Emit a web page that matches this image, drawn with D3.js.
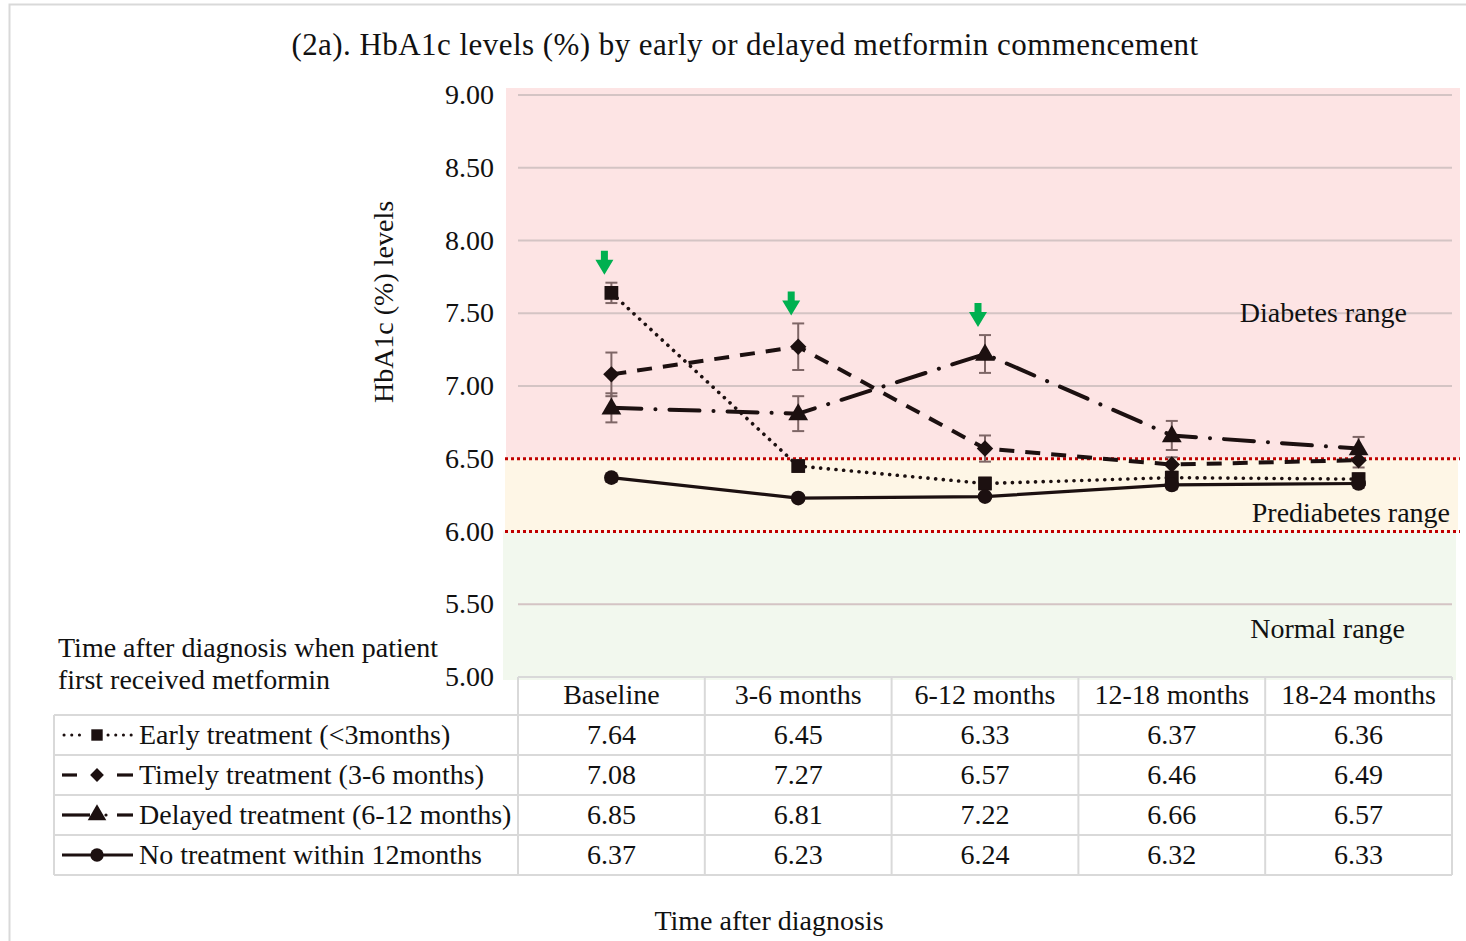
<!DOCTYPE html>
<html>
<head>
<meta charset="utf-8">
<script src="https://cdn.jsdelivr.net/npm/d3@7/dist/d3.min.js"></script>
<style>
  html, body { margin: 0; padding: 0; background: #fff; }
  svg text { font-family: "Liberation Serif", "Times New Roman", serif; fill: #111; }
</style>
</head>
<body>
<svg id="chart" width="1466" height="941"></svg>
<script>
// Time points (x categories)
const categories = ["Baseline", "3-6 months", "6-12 months", "12-18 months", "18-24 months"];

// Series labels as shown in the table
const seriesNames = [
  "Early treatment (<3months)",
  "Timely treatment (3-6 months)",
  "Delayed treatment (6-12 months)",
  "No treatment within 12months"
];

// Mean HbA1c (%) per time point
const earlyValues   = [7.64, 6.45, 6.33, 6.37, 6.36];
const timelyValues  = [7.08, 7.27, 6.57, 6.46, 6.49];
const delayedValues = [6.85, 6.81, 7.22, 6.66, 6.57];
const noneValues    = [6.37, 6.23, 6.24, 6.32, 6.33];

// Error bar half-widths (%)
const earlyErr   = [0.07, 0.04, 0.04, 0.04, 0.04];
const timelyErr  = [0.15, 0.16, 0.09, 0.05, 0.05];
const delayedErr = [0.10, 0.12, 0.13, 0.10, 0.08];
const noneErr    = [0.03, 0.02, 0.02, 0.03, 0.03];

// Time point at which each group started metformin (arrow markers)
const startIndex = [0, 1, 2, null];

// Y axis ticks
const yTicks = [5.0, 5.5, 6.0, 6.5, 7.0, 7.5, 8.0, 8.5, 9.0];

// Clinical thresholds
const ranges = [
  { name: "Diabetes range",    lo: 6.5, hi: 9.0 },
  { name: "Prediabetes range", lo: 6.0, hi: 6.5 },
  { name: "Normal range",      lo: 5.0, hi: 6.0 }
];

const seriesValues = [earlyValues, timelyValues, delayedValues, noneValues];
const seriesErr = [earlyErr, timelyErr, delayedErr, noneErr];

const svg = d3.select("#chart");
const FS = 28;

const x = d3.scaleBand().domain(categories).range([518, 1452]);
const xc = c => x(c) + x.bandwidth() / 2;
const y = d3.scaleLinear().domain([5, 9]).range([677, 95]);

// outer frame (top and left edges)
svg.append("path")
  .attr("d", "M9.5,941 V4.5 H1466")
  .attr("fill", "none").attr("stroke", "#d9d9d9").attr("stroke-width", 2);

// title
svg.append("text").attr("x", 745).attr("y", 55).attr("text-anchor", "middle")
  .style("font-size", "31px").style("letter-spacing", "0.45px")
  .text("(2a). HbA1c levels (%) by early or delayed metformin commencement");

// range bands
const bandStyle = [
  { fill: "#fde4e4", x0: 506, x1: 1460, top: -7, bottom: 0 },
  { fill: "#fef6e6", x0: 505, x1: 1458, top: 0, bottom: 0 },
  { fill: "#f2f8ee", x0: 503, x1: 1456, top: 0, bottom: 3 }
];
ranges.forEach((r, i) => {
  const s = bandStyle[i];
  svg.append("rect")
    .attr("x", s.x0).attr("width", s.x1 - s.x0)
    .attr("y", y(r.hi) + s.top)
    .attr("height", y(r.lo) - y(r.hi) - s.top + s.bottom)
    .attr("fill", s.fill);
});

// gridlines
svg.append("g").selectAll("line").data(yTicks.filter(t => t > 5 && t !== 6.5 && t !== 6.0)).join("line")
  .attr("x1", 518).attr("x2", 1452)
  .attr("y1", d => y(d)).attr("y2", d => y(d))
  .attr("stroke", "#d4c4c4").attr("stroke-width", 2);

// threshold lines
[6.5, 6.0].forEach(t => {
  svg.append("line").attr("x1", 505).attr("x2", 1460)
    .attr("y1", y(t)).attr("y2", y(t))
    .attr("stroke", "#c00000").attr("stroke-width", 3)
    .attr("stroke-dasharray", "3 3");
});

// range labels
const rangeLabelPos = [
  { x: 1407, v: 7.44 },
  { x: 1450, v: 6.065 },
  { x: 1405, v: 5.268 }
];
ranges.forEach((r, i) => {
  svg.append("text").attr("x", rangeLabelPos[i].x).attr("y", y(rangeLabelPos[i].v))
    .attr("text-anchor", "end").style("font-size", FS + "px").text(r.name);
});

// y tick labels
svg.append("g").selectAll("text").data(yTicks).join("text")
  .attr("x", 494).attr("y", d => y(d)).attr("dy", "0.33em")
  .attr("text-anchor", "end").style("font-size", FS + "px")
  .text(d => d3.format(".2f")(d));

// y axis title
svg.append("text")
  .attr("transform", "translate(393,302) rotate(-90)")
  .attr("text-anchor", "middle").style("font-size", FS + "px")
  .text("HbA1c (%) levels");

// line styles per series
const lineStyle = [
  { dash: "0.1 7.6", width: 3.6, cap: "round" },
  { dash: "15 11", width: 4, cap: "butt" },
  { dash: "30 14 0.1 14", width: 4, cap: "round" },
  { dash: null, width: 3.2, cap: "butt" }
];
const ink = "#1c1010";
const symbols = [d3.symbolSquare, d3.symbolSquare, d3.symbolTriangle, d3.symbolCircle];
const symRotate = [0, 45, 0, 0];
const symSize = [190, 135, 170, 170];

const line = d3.line().x((d, i) => xc(categories[i])).y(d => y(d));

const gLines = svg.append("g");
seriesValues.forEach((vals, s) => {
  gLines.append("path").datum(vals)
    .attr("d", line)
    .attr("fill", "none").attr("stroke", ink)
    .attr("stroke-width", lineStyle[s].width)
    .attr("stroke-linecap", lineStyle[s].cap)
    .attr("stroke-dasharray", lineStyle[s].dash);
});

// error bars
const gErr = svg.append("g").attr("stroke", "#7e6666").attr("stroke-width", 2);
seriesValues.forEach((vals, s) => {
  vals.forEach((v, i) => {
    const cx = xc(categories[i]);
    const e = seriesErr[s][i];
    gErr.append("line").attr("x1", cx).attr("x2", cx).attr("y1", y(v + e)).attr("y2", y(v - e));
    [v + e, v - e].forEach(w => {
      gErr.append("line").attr("x1", cx - 6).attr("x2", cx + 6).attr("y1", y(w)).attr("y2", y(w));
    });
  });
});

// markers
seriesValues.forEach((vals, s) => {
  svg.append("g").selectAll("path").data(vals).join("path")
    .attr("transform", (d, i) => `translate(${xc(categories[i])},${y(d) + (s === 2 ? 1 : 0)}) rotate(${symRotate[s]})`)
    .attr("d", d3.symbol().type(symbols[s]).size(symSize[s]))
    .attr("fill", ink);
});

// treatment start arrows
const arrow = "M-3.5,-24 H3.5 V-15 H9 L0,0 L-9,-15 H-3.5 Z";
startIndex.forEach((idx, s) => {
  if (idx === null) return;
  const v = seriesValues[s][idx], e = seriesErr[s][idx];
  const tipY = Math.min(y(v + e) - 8, y(v) - 16);
  svg.append("path")
    .attr("transform", `translate(${xc(categories[idx]) - 7},${tipY})`)
    .attr("d", arrow).attr("fill", "#00b050");
});

// data table
const gridColor = "#d9d9d9";
const tbl = svg.append("g").attr("stroke", gridColor).attr("stroke-width", 2);
const rowTop = 677, rowH = 40, left = 54;
tbl.append("line").attr("x1", 518).attr("x2", 1452).attr("y1", rowTop).attr("y2", rowTop);
for (let r = 1; r <= 5; r++) {
  tbl.append("line").attr("x1", left).attr("x2", 1452)
    .attr("y1", rowTop - 2 + r * rowH).attr("y2", rowTop - 2 + r * rowH);
}
tbl.append("line").attr("x1", left).attr("x2", left).attr("y1", rowTop - 2 + rowH).attr("y2", rowTop - 2 + 5 * rowH);
categories.forEach(c => {
  tbl.append("line").attr("x1", x(c)).attr("x2", x(c)).attr("y1", rowTop).attr("y2", rowTop - 2 + 5 * rowH);
});
tbl.append("line").attr("x1", 1452).attr("x2", 1452).attr("y1", rowTop).attr("y2", rowTop - 2 + 5 * rowH);

// header row
svg.append("g").selectAll("text").data(categories).join("text")
  .attr("x", d => xc(d)).attr("y", rowTop + rowH / 2 - 2).attr("dy", "0.33em")
  .attr("text-anchor", "middle").style("font-size", FS + "px").text(d => d);

// value rows + legend keys
const keySize = [130, 95, 150, 140];
seriesValues.forEach((vals, s) => {
  const cy = rowTop - 2 + (s + 1) * rowH + rowH / 2;
  svg.append("g").selectAll("text").data(vals).join("text")
    .attr("x", (d, i) => xc(categories[i])).attr("y", cy).attr("dy", "0.33em")
    .attr("text-anchor", "middle").style("font-size", FS + "px")
    .text(d => d3.format(".2f")(d));

  svg.append("text").attr("x", 139).attr("y", cy).attr("dy", "0.33em")
    .style("font-size", FS + "px").text(seriesNames[s]);

  const k = svg.append("g");
  if (s === 0) {
    [[64, 86], [108, 132]].forEach(([a, b]) => k.append("line").attr("x1", a).attr("x2", b)
      .attr("y1", cy).attr("y2", cy).attr("stroke", ink).attr("stroke-width", 3)
      .attr("stroke-linecap", "round").attr("stroke-dasharray", "0.1 7.6"));
  } else if (s === 1) {
    [[62, 77], [117, 133]].forEach(([a, b]) => k.append("line").attr("x1", a).attr("x2", b)
      .attr("y1", cy).attr("y2", cy).attr("stroke", ink).attr("stroke-width", 3.2));
  } else if (s === 2) {
    k.append("line").attr("x1", 62).attr("x2", 90).attr("y1", cy).attr("y2", cy).attr("stroke", ink).attr("stroke-width", 3.2);
    k.append("circle").attr("cx", 106).attr("cy", cy).attr("r", 1.6).attr("fill", ink);
    k.append("line").attr("x1", 117).attr("x2", 133).attr("y1", cy).attr("y2", cy).attr("stroke", ink).attr("stroke-width", 3.2);
  } else {
    k.append("line").attr("x1", 62).attr("x2", 133).attr("y1", cy).attr("y2", cy).attr("stroke", ink).attr("stroke-width", 3.2);
  }
  k.append("path").attr("transform", `translate(97,${cy}) rotate(${symRotate[s]})`)
    .attr("d", d3.symbol().type(symbols[s]).size(keySize[s])).attr("fill", ink);
});

// legend heading
svg.append("text").attr("x", 58).attr("y", 657).style("font-size", FS + "px")
  .text("Time after diagnosis when patient");
svg.append("text").attr("x", 58).attr("y", 689).style("font-size", FS + "px")
  .text("first received metformin");

// x axis title
svg.append("text").attr("x", 769).attr("y", 930).attr("text-anchor", "middle")
  .style("font-size", FS + "px").text("Time after diagnosis");
</script>
</body>
</html>
